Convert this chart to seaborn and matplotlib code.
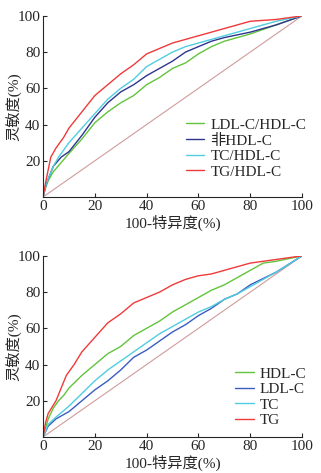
import numpy as np
import pandas as pd
import matplotlib
matplotlib.use("Agg")
import matplotlib.pyplot as plt
import seaborn as sns

sns.set_style("ticks")
plt.rcParams['font.family'] = ['Liberation Serif', 'Noto Sans CJK SC']

# ---- Top panel data ----
top_names = ["LDL-C/HDL-C", "非HDL-C", "TC/HDL-C", "TG/HDL-C"]
top_colors = ["#62c43c", "#2e3590", "#50cde0", "#f03a3a"]

ldl_hdl_x = [0, 1, 2, 4, 7, 10, 15, 20, 25, 30, 35, 40, 45, 50, 55, 60, 65, 70, 80, 90, 100]
ldl_hdl_y = [0, 5, 9, 14, 19, 24, 32, 41, 47, 52, 56, 62, 66, 71, 74, 79, 83, 86, 90, 95, 100]

nonhdl_x = [0, 1, 2, 4, 7, 10, 15, 20, 25, 30, 35, 40, 45, 50, 55, 60, 65, 70, 80, 90, 100]
nonhdl_y = [0, 6, 10, 17, 22, 25, 34, 44, 52, 58, 62, 67, 71, 75, 80, 83, 86, 88, 91, 95, 100]

tc_hdl_x = [0, 1, 2, 4, 6, 10, 15, 20, 25, 30, 35, 40, 45, 50, 55, 60, 65, 70, 80, 90, 100]
tc_hdl_y = [0, 6, 10, 17, 22, 30, 38, 46, 54, 60, 65, 72, 76, 80, 83, 85, 87, 89, 93, 97, 100]

tg_hdl_x = [0, 1, 2, 3, 5, 8, 10, 15, 20, 25, 30, 35, 40, 45, 50, 55, 60, 65, 70, 75, 80, 90, 100]
tg_hdl_y = [0, 8, 15, 22, 27, 33, 38, 47, 56, 62, 68, 73, 79, 82, 85, 87, 89, 91, 93, 95, 97, 98, 100]

# ---- Bottom panel data ----
bot_names = ["HDL-C", "LDL-C", "TC", "TG"]
bot_colors = ["#62c43c", "#3a5cc0", "#50cde0", "#f03a3a"]

hdl_x = [0, 2, 4, 6, 8, 10, 15, 20, 25, 30, 35, 40, 45, 50, 55, 60, 65, 70, 75, 80, 85, 90, 100]
hdl_y = [0, 10, 16, 20, 23, 27, 34, 40, 46, 50, 56, 60, 64, 69, 73, 77, 81, 84, 88, 92, 96, 97, 100]

ldl_x = [0, 2, 5, 10, 15, 20, 25, 30, 35, 40, 45, 50, 55, 60, 65, 70, 75, 80, 90, 100]
ldl_y = [0, 6, 10, 14, 20, 26, 31, 37, 44, 48, 53, 58, 62, 67, 71, 76, 79, 84, 91, 100]

tc_x = [0, 2, 5, 10, 15, 20, 25, 30, 35, 40, 45, 50, 55, 60, 65, 70, 75, 80, 90, 100]
tc_y = [0, 7, 11, 17, 24, 31, 37, 42, 47, 52, 57, 61, 65, 69, 72, 76, 79, 83, 91, 100]

tg_x = [0, 1, 2, 5, 7, 9, 12, 15, 20, 25, 30, 35, 40, 45, 50, 55, 60, 65, 70, 80, 90, 100]
tg_y = [0, 8, 13, 20, 27, 34, 40, 47, 55, 63, 68, 74, 77, 80, 84, 87, 89, 90, 92, 96, 98, 100]

diag = [0, 100]

x_ticks = [0, 20, 40, 60, 80, 100]
y_ticks = [20, 40, 60, 80, 100]
xlabel = "100-特异度(%)"
ylabel = "灵敏度(%)"


def long_df(names, xs, ys):
    frames = []
    for n, x, y in zip(names, xs, ys):
        frames.append(pd.DataFrame({"x": x, "y": y, "name": n}))
    return pd.concat(frames, ignore_index=True)


top_df = long_df(top_names, [ldl_hdl_x, nonhdl_x, tc_hdl_x, tg_hdl_x],
                 [ldl_hdl_y, nonhdl_y, tc_hdl_y, tg_hdl_y])
bot_df = long_df(bot_names, [hdl_x, ldl_x, tc_x, tg_x],
                 [hdl_y, ldl_y, tc_y, tg_y])

fig = plt.figure(figsize=(3.21, 4.73), dpi=100)
ax1 = fig.add_axes([0.134, 0.5835, 0.807, 0.383])
ax2 = fig.add_axes([0.134, 0.0761, 0.807, 0.383])

FS = 11
for ax, df, names, colors, leg_y in [
    (ax1, top_df, top_names, top_colors, 0.47),
    (ax2, bot_df, bot_names, bot_colors, 0.42),
]:
    ax.plot(diag, diag, color="#cf9c9c", lw=0.8, zorder=1)
    sns.lineplot(data=df, x="x", y="y", hue="name", hue_order=names,
                 palette=colors, sort=False, estimator=None, lw=1.0, ax=ax)
    ax.set_xlim(0, 100)
    ax.set_ylim(0, 100)
    ax.set_xticks(x_ticks)
    ax.set_yticks(y_ticks)
    ax.tick_params(direction="in", length=3, width=0.8, labelsize=FS, pad=2)
    for s in ["top", "right"]:
        ax.spines[s].set_visible(False)
    for s in ["left", "bottom"]:
        ax.spines[s].set_linewidth(0.8)
    ax.set_xlabel(xlabel, fontsize=FS)
    ax.set_ylabel(ylabel, fontsize=FS)
    ax.xaxis.set_label_coords(0.5, -0.10)
    ax.yaxis.set_label_coords(-0.085, 0.5)
    leg = ax.legend(loc="upper right", bbox_to_anchor=(1.04, leg_y), frameon=False,
                    fontsize=FS, handlelength=1.2, handletextpad=0.4,
                    labelspacing=0.12, borderaxespad=0)

fig.savefig("out.png", dpi=100)
